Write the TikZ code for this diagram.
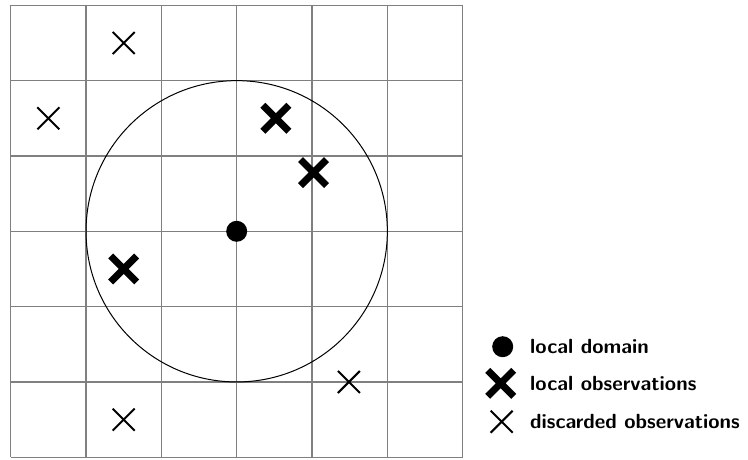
\documentclass[tikz,border=0pt]{standalone}
\usetikzlibrary{calc}
\begin{document}
\begin{tikzpicture}[x=1pt,y=-1pt,
  gridline/.style={draw=black!50,line width=1.1pt},
  smallx/.pic={\draw[line width=2pt] (-11,-11)--(11,11) (-11,11)--(11,-11);},
  bigx/.pic={\draw[line width=7pt] (-13,-13)--(13,13) (-13,13)--(13,-13);},
  legtext/.style={anchor=west,font=\sffamily\bfseries\fontsize{20.5}{24}\selectfont,inner sep=0pt}]
\useasboundingbox (0,0) rectangle (748,459);
\def\u{75.33}
\begin{scope}[shift={(10.7,5.3)}]
  \foreach \i in {0,...,6} {
    \draw[gridline] (\i*\u,0) -- (\i*\u,6*\u);
    \draw[gridline] (0,\i*\u) -- (6*\u,\i*\u);
  }
  \coordinate (c) at (3*\u,3*\u);
  \draw[line width=1pt] (c) circle (3*\u/1.5);
  \fill (c) circle (10.5);
  \pic at (3.52*\u,1.5*\u) {bigx};
  \pic at (4.02*\u,2.22*\u) {bigx};
  \pic at (1.5*\u,3.5*\u) {bigx};
  \pic at (1.5*\u,0.5*\u) {smallx};
  \pic at (0.5*\u,1.5*\u) {smallx};
  \pic at (4.49*\u,5*\u) {smallx};
  \pic at (1.5*\u,5.5*\u) {smallx};
\end{scope}
\fill (502.7,346.7) circle (10.5);
\pic at (500.7,383.3) {bigx};
\pic at (501.7,421.7) {smallx};
\node[legtext] (l1) at (530,346.7) {local domain};
\node[legtext] (l2) at (530,383.3) {local observations};
\node[legtext] (l3) at (530,421.7) {discarded observations};
\end{tikzpicture}
\end{document}
